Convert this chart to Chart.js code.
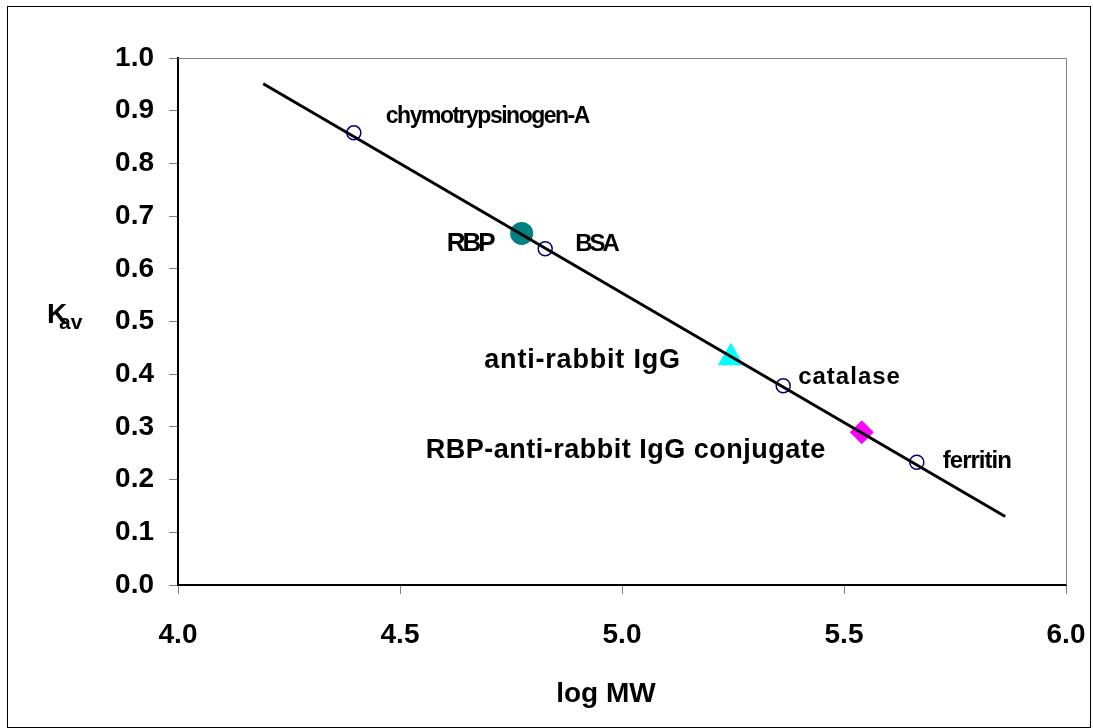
<!DOCTYPE html>
<html>
<head>
<meta charset="utf-8">
<script src="https://cdn.jsdelivr.net/npm/chart.js@4.4.0/dist/chart.umd.min.js"></script>
<style>
  html, body { margin: 0; padding: 0; background: #fff; }
  #wrap { width: 1093px; height: 728px; }
</style>
</head>
<body>
<div id="wrap"><canvas id="kavChart"></canvas></div>
<script>
// calibration standards (open circles)
const standardNames = ["chymotrypsinogen-A", "BSA", "catalase", "ferritin"];
const standardLogMW = [4.396, 4.827, 5.363, 5.664];
const standardKav = [0.858, 0.638, 0.378, 0.233];

// samples
const rbpLogMW = [4.774];
const rbpKav = [0.667];
const iggLogMW = [5.245];
const iggKav = [0.431];
const conjLogMW = [5.540];
const conjKav = [0.290];

// fitted calibration line (end points)
const fitLogMW = [4.192, 5.863];
const fitKav = [0.951, 0.130];

const xTicks = [4.0, 4.5, 5.0, 5.5, 6.0];
const yTicks = [0.0, 0.1, 0.2, 0.3, 0.4, 0.5, 0.6, 0.7, 0.8, 0.9, 1.0];

const FONT = "'Liberation Sans', Arial, sans-serif";

// label placement relative to the marker (pixels)
const labelStyle = {
  "chymotrypsinogen-A": { dx: 32, dy: -10, align: "left", size: 23, spacing: -1.5 },
  "BSA": { dx: 30, dy: 2, align: "left", size: 24, spacing: -3 },
  "catalase": { dx: 15, dy: -2, align: "left", size: 24, spacing: 1 },
  "ferritin": { dx: 26, dy: 6, align: "left", size: 24, spacing: -1 },
  "RBP": { dx: -29, dy: 18, align: "right", size: 26, spacing: -3 },
  "anti-rabbit IgG": { dx: -50, dy: 10, align: "right", size: 27, spacing: 0.8 },
  "RBP-anti-rabbit IgG conjugate": { dx: -36, dy: 26, align: "right", size: 27, spacing: 0.5 }
};

const toPts = (xs, ys) => xs.map((x, i) => ({ x: x, y: ys[i] }));

const labels = [
  { names: standardNames, ds: 1 },
  { names: ["RBP"], ds: 2 },
  { names: ["anti-rabbit IgG"], ds: 3 },
  { names: ["RBP-anti-rabbit IgG conjugate"], ds: 4 }
];

const decor = {
  id: "decor",
  afterDatasetsDraw(chart) {
    const ctx = chart.ctx;
    const a = chart.chartArea;
    ctx.save();
    // plot box top/right
    ctx.strokeStyle = "#808080";
    ctx.lineWidth = 1;
    ctx.beginPath();
    ctx.moveTo(a.left, a.top + 0.5);
    ctx.lineTo(a.right + 0.5, a.top + 0.5);
    ctx.lineTo(a.right + 0.5, a.bottom);
    ctx.stroke();

    // point labels
    ctx.fillStyle = "#000";
    ctx.textBaseline = "alphabetic";
    labels.forEach(g => {
      const meta = chart.getDatasetMeta(g.ds);
      g.names.forEach((name, i) => {
        const el = meta.data[i];
        const s = labelStyle[name];
        ctx.font = "bold " + s.size + "px " + FONT;
        ctx.letterSpacing = s.spacing + "px";
        ctx.textAlign = s.align;
        ctx.fillText(name, el.x + s.dx, el.y + s.dy);
      });
    });
    ctx.letterSpacing = "0px";

    // axis titles
    ctx.textAlign = "center";
    ctx.font = "bold 28px " + FONT;
    ctx.fillText("log MW", 606, 702);
    ctx.textAlign = "left";
    ctx.fillText("K", 47, 323);
    ctx.font = "bold 21px " + FONT;
    ctx.fillText("av", 59, 329);

    // outer frame
    ctx.strokeStyle = "#000";
    ctx.lineWidth = 1;
    ctx.strokeRect(7.5, 6.5, 1083, 721);
    ctx.restore();
  }
};

const bg = {
  id: "bg",
  beforeDraw(chart) {
    const ctx = chart.ctx;
    ctx.save();
    ctx.fillStyle = "#fff";
    ctx.fillRect(0, 0, chart.width, chart.height);
    ctx.restore();
  }
};

new Chart(document.getElementById("kavChart"), {
  type: "scatter",
  data: {
    datasets: [
      {
        data: toPts(fitLogMW, fitKav),
        showLine: true,
        borderColor: "#000",
        borderWidth: 3,
        pointRadius: 0,
        order: 0
      },
      {
        data: toPts(standardLogMW, standardKav),
        pointStyle: "circle",
        pointRadius: 7,
        borderColor: "#000080",
        borderWidth: 1.5,
        backgroundColor: "rgba(255,255,255,0)",
        order: 1
      },
      {
        data: toPts(rbpLogMW, rbpKav),
        pointStyle: "circle",
        pointRadius: 11.5,
        borderWidth: 0,
        backgroundColor: "#008080",
        order: 1
      },
      {
        data: toPts(iggLogMW, iggKav),
        pointStyle: "triangle",
        pointRadius: 15,
        borderWidth: 0,
        backgroundColor: "#00FFFF",
        order: 1
      },
      {
        data: toPts(conjLogMW, conjKav),
        pointStyle: "rectRot",
        pointRadius: 12,
        borderWidth: 0,
        backgroundColor: "#FF00FF",
        order: 1
      }
    ]
  },
  options: {
    responsive: true,
    maintainAspectRatio: false,
    animation: false,
    layout: { padding: { top: 58, right: 27, left: 0, bottom: 0 } },
    plugins: { legend: { display: false }, tooltip: { enabled: false } },
    scales: {
      x: {
        type: "linear",
        min: 4.0,
        max: 6.0,
        afterBuildTicks: s => { s.ticks = xTicks.map(v => ({ value: v })); },
        afterFit: s => { s.height = 143; s.paddingLeft = 0; s.paddingRight = 0; },
        ticks: {
          color: "#000",
          font: { family: FONT, size: 28, weight: "bold" },
          padding: 24,
          maxRotation: 0,
          callback: v => v.toFixed(1)
        },
        grid: { drawOnChartArea: false, color: "#808080", tickLength: 9 },
        border: { color: "#000", width: 2 }
      },
      y: {
        type: "linear",
        min: 0,
        max: 1,
        afterBuildTicks: s => { s.ticks = yTicks.map(v => ({ value: v })); },
        afterFit: s => { s.width = 178; s.paddingTop = 0; s.paddingBottom = 0; },
        ticks: {
          color: "#000",
          font: { family: FONT, size: 28, weight: "bold" },
          padding: 15,
          callback: v => v.toFixed(1)
        },
        grid: { drawOnChartArea: false, color: "#808080", tickLength: 9 },
        border: { color: "#000", width: 2 }
      }
    }
  },
  plugins: [bg, decor]
});
</script>
</body>
</html>
